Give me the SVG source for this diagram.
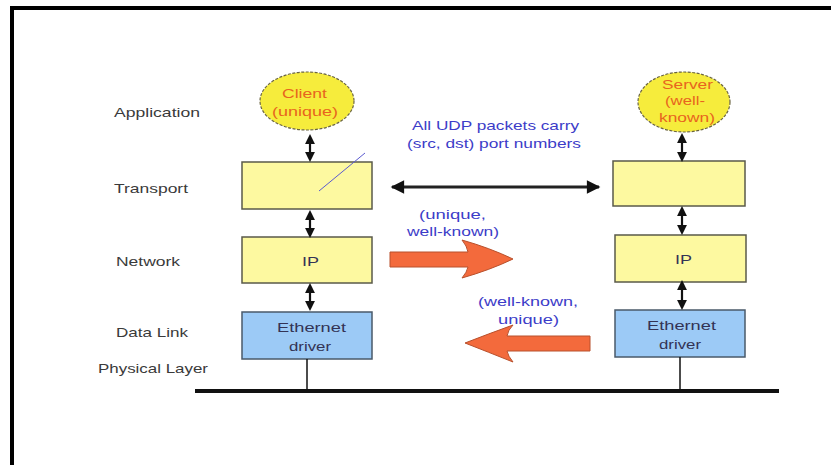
<svg xmlns="http://www.w3.org/2000/svg" width="831" height="465" viewBox="0 0 831 465">
  <style>
    text { font-family: "Liberation Sans", Arial, sans-serif; }
    .layer { font-size: 13px; fill: #3a3a3a; }
    .note { font-size: 13.5px; fill: #3c3cc8; }
    .app { font-size: 13px; fill: #e8641e; }
    .lbl { font-size: 13.5px; fill: #333355; }
    .yel { fill: #fdf9a0; stroke: #5a5a4a; stroke-width: 1.5; }
    .blu { fill: #9ccaf6; stroke: #4a5a6a; stroke-width: 1.5; }
    .circ { fill: #f6ec3c; stroke: #6a6440; stroke-width: 1.2; stroke-dasharray: 3 1.5; }
    .wire { stroke: #111; stroke-width: 1.5; fill: none; }
    .bus { stroke: #111; stroke-width: 4; fill: none; }
    .big { fill: #f36a3c; stroke: #b8502c; stroke-width: 1; }
    .dbl { stroke: #111; stroke-width: 2.2; fill: none; marker-start: url(#tip); marker-end: url(#tip); }
  </style>
  <defs>
    <marker id="tip" viewBox="0 0 10 10" refX="5" refY="5" markerWidth="4.5" markerHeight="4.5" orient="auto-start-reverse" markerUnits="strokeWidth">
      <path d="M0 0 L10 5 L0 10 z" fill="#111"/>
    </marker>
    <marker id="head" viewBox="0 0 10 10" refX="9" refY="5" markerWidth="5.5" markerHeight="4.5" orient="auto-start-reverse" markerUnits="strokeWidth">
      <path d="M0 0 L10 5 L0 10 z" fill="#111"/>
    </marker>
  </defs>

  <!-- outer frame -->
  <path d="M12 465 V8 H831" fill="none" stroke="#000" stroke-width="4"/>

  <!-- layer names -->
  <g id="layers">
    <text class="layer" x="114" y="117" textLength="86" lengthAdjust="spacingAndGlyphs">Application</text>
    <text class="layer" x="114" y="193" textLength="74" lengthAdjust="spacingAndGlyphs">Transport</text>
    <text class="layer" x="116" y="266" textLength="64" lengthAdjust="spacingAndGlyphs">Network</text>
    <text class="layer" x="116" y="337" textLength="72" lengthAdjust="spacingAndGlyphs">Data Link</text>
    <text class="layer" x="98" y="373" textLength="110" lengthAdjust="spacingAndGlyphs">Physical Layer</text>
  </g>

  <!-- client stack -->
  <g id="client">
    <ellipse class="circ" cx="307" cy="101" rx="47" ry="29"/>
    <text class="app" x="282" y="98" textLength="45" lengthAdjust="spacingAndGlyphs">Client</text>
    <text class="app" x="272" y="116" textLength="66" lengthAdjust="spacingAndGlyphs">(unique)</text>
  </g>
  <g id="client-transport">
    <rect class="yel" x="242" y="162" width="130" height="47"/>
    <line x1="319" y1="191" x2="365" y2="153" stroke="#5a5ad0" stroke-width="1"/>
  </g>
  <g id="client-ip">
    <rect class="yel" x="242" y="237" width="130" height="46"/>
    <text class="lbl" x="302" y="266" textLength="17" lengthAdjust="spacingAndGlyphs">IP</text>
  </g>
  <g id="client-eth">
    <rect class="blu" x="242" y="312" width="130" height="47"/>
    <text class="lbl" x="277" y="332" textLength="69" lengthAdjust="spacingAndGlyphs">Ethernet</text>
    <text class="lbl" x="289" y="351" textLength="42" lengthAdjust="spacingAndGlyphs">driver</text>
  </g>

  <!-- server stack -->
  <g id="server">
    <ellipse class="circ" cx="684" cy="102" rx="46" ry="30"/>
    <text class="app" x="662" y="89" textLength="51" lengthAdjust="spacingAndGlyphs">Server</text>
    <text class="app" x="665" y="105" textLength="40" lengthAdjust="spacingAndGlyphs">(well-</text>
    <text class="app" x="659" y="122" textLength="56" lengthAdjust="spacingAndGlyphs">known)</text>
  </g>
  <g id="server-transport">
    <rect class="yel" x="613" y="161" width="132" height="45"/>
  </g>
  <g id="server-ip">
    <rect class="yel" x="615" y="235" width="131" height="47"/>
    <text class="lbl" x="675" y="264" textLength="17" lengthAdjust="spacingAndGlyphs">IP</text>
  </g>
  <g id="server-eth">
    <rect class="blu" x="615" y="310" width="130" height="47"/>
    <text class="lbl" x="647" y="330" textLength="69" lengthAdjust="spacingAndGlyphs">Ethernet</text>
    <text class="lbl" x="659" y="349" textLength="42" lengthAdjust="spacingAndGlyphs">driver</text>
  </g>

  <!-- notes -->
  <g id="notes">
    <text class="note" x="412" y="130" textLength="167" lengthAdjust="spacingAndGlyphs">All UDP packets carry</text>
    <text class="note" x="407" y="148" textLength="174" lengthAdjust="spacingAndGlyphs">(src, dst) port numbers</text>
    <text class="note" x="419" y="219" textLength="67" lengthAdjust="spacingAndGlyphs">(unique,</text>
    <text class="note" x="407" y="236" textLength="92" lengthAdjust="spacingAndGlyphs">well-known)</text>
    <text class="note" x="478" y="306" textLength="100" lengthAdjust="spacingAndGlyphs">(well-known,</text>
    <text class="note" x="498" y="324" textLength="61" lengthAdjust="spacingAndGlyphs">unique)</text>
  </g>

  <!-- connectors -->
  <g id="connectors">
    <line class="dbl" x1="310" y1="139" x2="310" y2="157"/>
    <line class="dbl" x1="310" y1="215" x2="310" y2="233"/>
    <line class="dbl" x1="310" y1="288" x2="310" y2="306"/>
    <line class="dbl" x1="682" y1="138" x2="682" y2="157"/>
    <line class="dbl" x1="682" y1="211" x2="682" y2="230"/>
    <line class="dbl" x1="682" y1="285" x2="682" y2="305"/>

    <line x1="392" y1="187" x2="599" y2="187" stroke="#222" stroke-width="3" marker-start="url(#head)" marker-end="url(#head)"/>

    <line class="wire" x1="307" y1="359" x2="307" y2="391"/>
    <line class="wire" x1="680" y1="357" x2="680" y2="391"/>
    <line class="bus" x1="195" y1="391" x2="779" y2="391"/>

    <path class="big" d="M390 252 H468 Q467 246 462 240 Q490 248 513 259 Q490 270 462 278 Q467 272 468 267 H390 Z"/>
    <path class="big" d="M590 336 H507 Q508 330 513 325 Q488 334 465 343 Q488 352 513 362 Q508 356 507 351 H590 Z"/>
  </g>
</svg>
